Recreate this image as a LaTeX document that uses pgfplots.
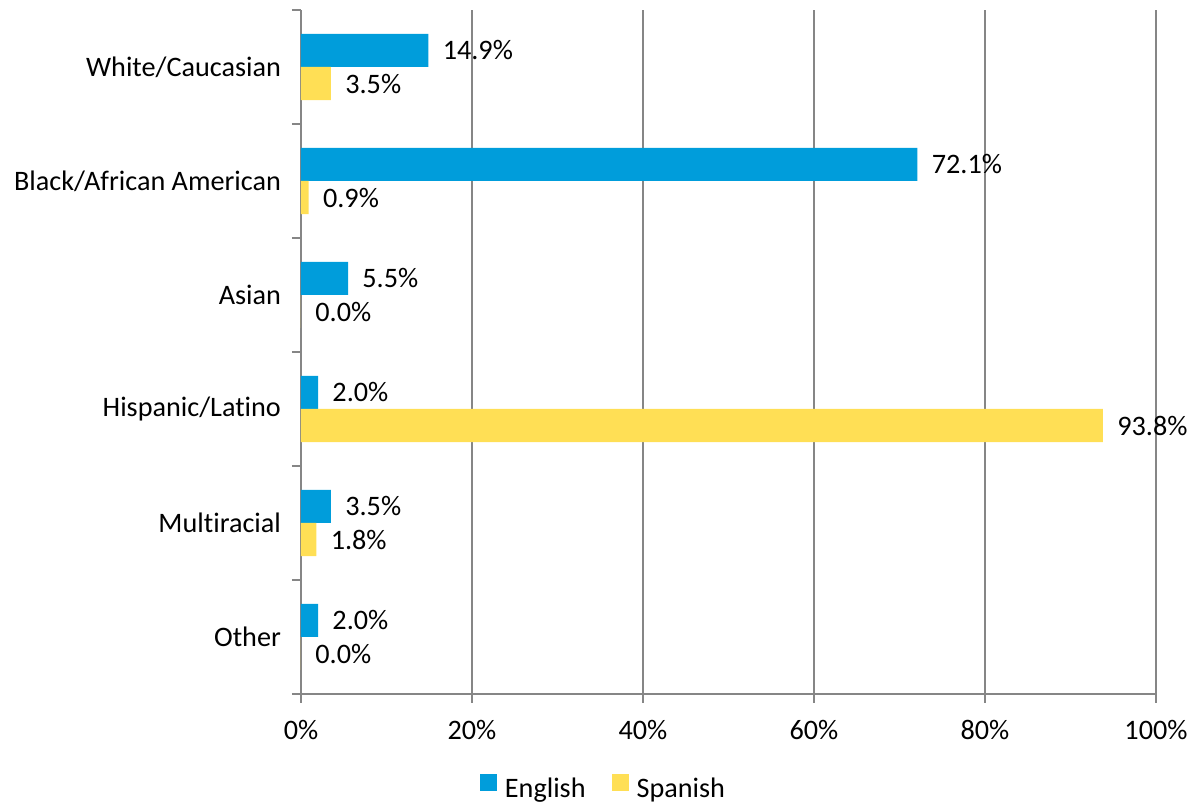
\documentclass[border=0pt]{standalone}
\usepackage{fontspec}
\setmainfont{Carlito}[Ligatures=NoCommon]
\usepackage{pgfplots}
\pgfplotsset{compat=1.18}
\definecolor{engblue}{HTML}{009DDB}
\definecolor{spayellow}{HTML}{FFDF55}
\definecolor{axgray}{HTML}{868686}

\begin{document}
\begin{tikzpicture}
  \begin{axis}[
    name=ax,
    scale only axis,
    width=427.5pt, height=342pt,
    xbar, bar width=0.29,
    xmin=0, xmax=100, ymin=-0.5, ymax=5.5,
    enlargelimits=false,
    axis x line*=bottom, axis y line*=left,
    axis line style={axgray, line width=0.75pt},
    every tick/.style={axgray, line width=0.75pt},
    tick align=outside,
    major tick length=4.5pt, minor tick length=4.5pt,
    xtick={0,20,...,100},
    xticklabel={\pgfmathprintnumber{\tick}\%},
    xmajorgrids, grid style={axgray, line width=0.75pt},
    ytick={0,...,5},
    yticklabels={Other,Multiracial,Hispanic/Latino,Asian,Black/African American,White/Caucasian},
    major y tick style={draw=none},
    minor ytick={-0.5,0.5,...,5.5},
    /pgf/number format/assume math mode=true,
    tick label style={font=\fontsize{14.1}{16}\selectfont, black},
    x tick label style={yshift=-5pt},
    y tick label style={xshift=-2pt},
    nodes near coords={\pgfmathprintnumber[fixed,fixed zerofill,precision=1]{\pgfplotspointmeta}\%},
    nodes near coords style={anchor=west, inner sep=0pt, xshift=7pt, font=\fontsize{14.1}{16}\selectfont, black},
    legend columns=2,
    legend style={at={(0.355,-0.11)}, anchor=north, draw=none, font=\fontsize{14.1}{16}\selectfont,
      /tikz/every odd column/.append style={column sep=2pt},
      /tikz/every even column/.append style={column sep=11pt}},
    legend image code/.code={\fill[#1] (0pt,-1pt) rectangle (8.5pt,7.5pt);},
  ]
  \addplot[fill=engblue, draw=none, bar shift=0.145] coordinates {
    (14.9,5) (72.1,4) (5.5,3) (2.0,2) (3.5,1) (2.0,0)
  };
  \addlegendentry{English}
  \addplot[fill=spayellow, draw=none, bar shift=-0.145] coordinates {
    (3.5,5) (0.9,4) (0.0,3) (93.8,2) (1.8,1) (0.0,0)
  };
  \addlegendentry{Spanish}
  \end{axis}
  \pgfresetboundingbox
  \useasboundingbox ([shift={(-150.5pt,-55.5pt)}]ax.south west) rectangle ([shift={(20pt,5pt)}]ax.north east);
\end{tikzpicture}
\end{document}
